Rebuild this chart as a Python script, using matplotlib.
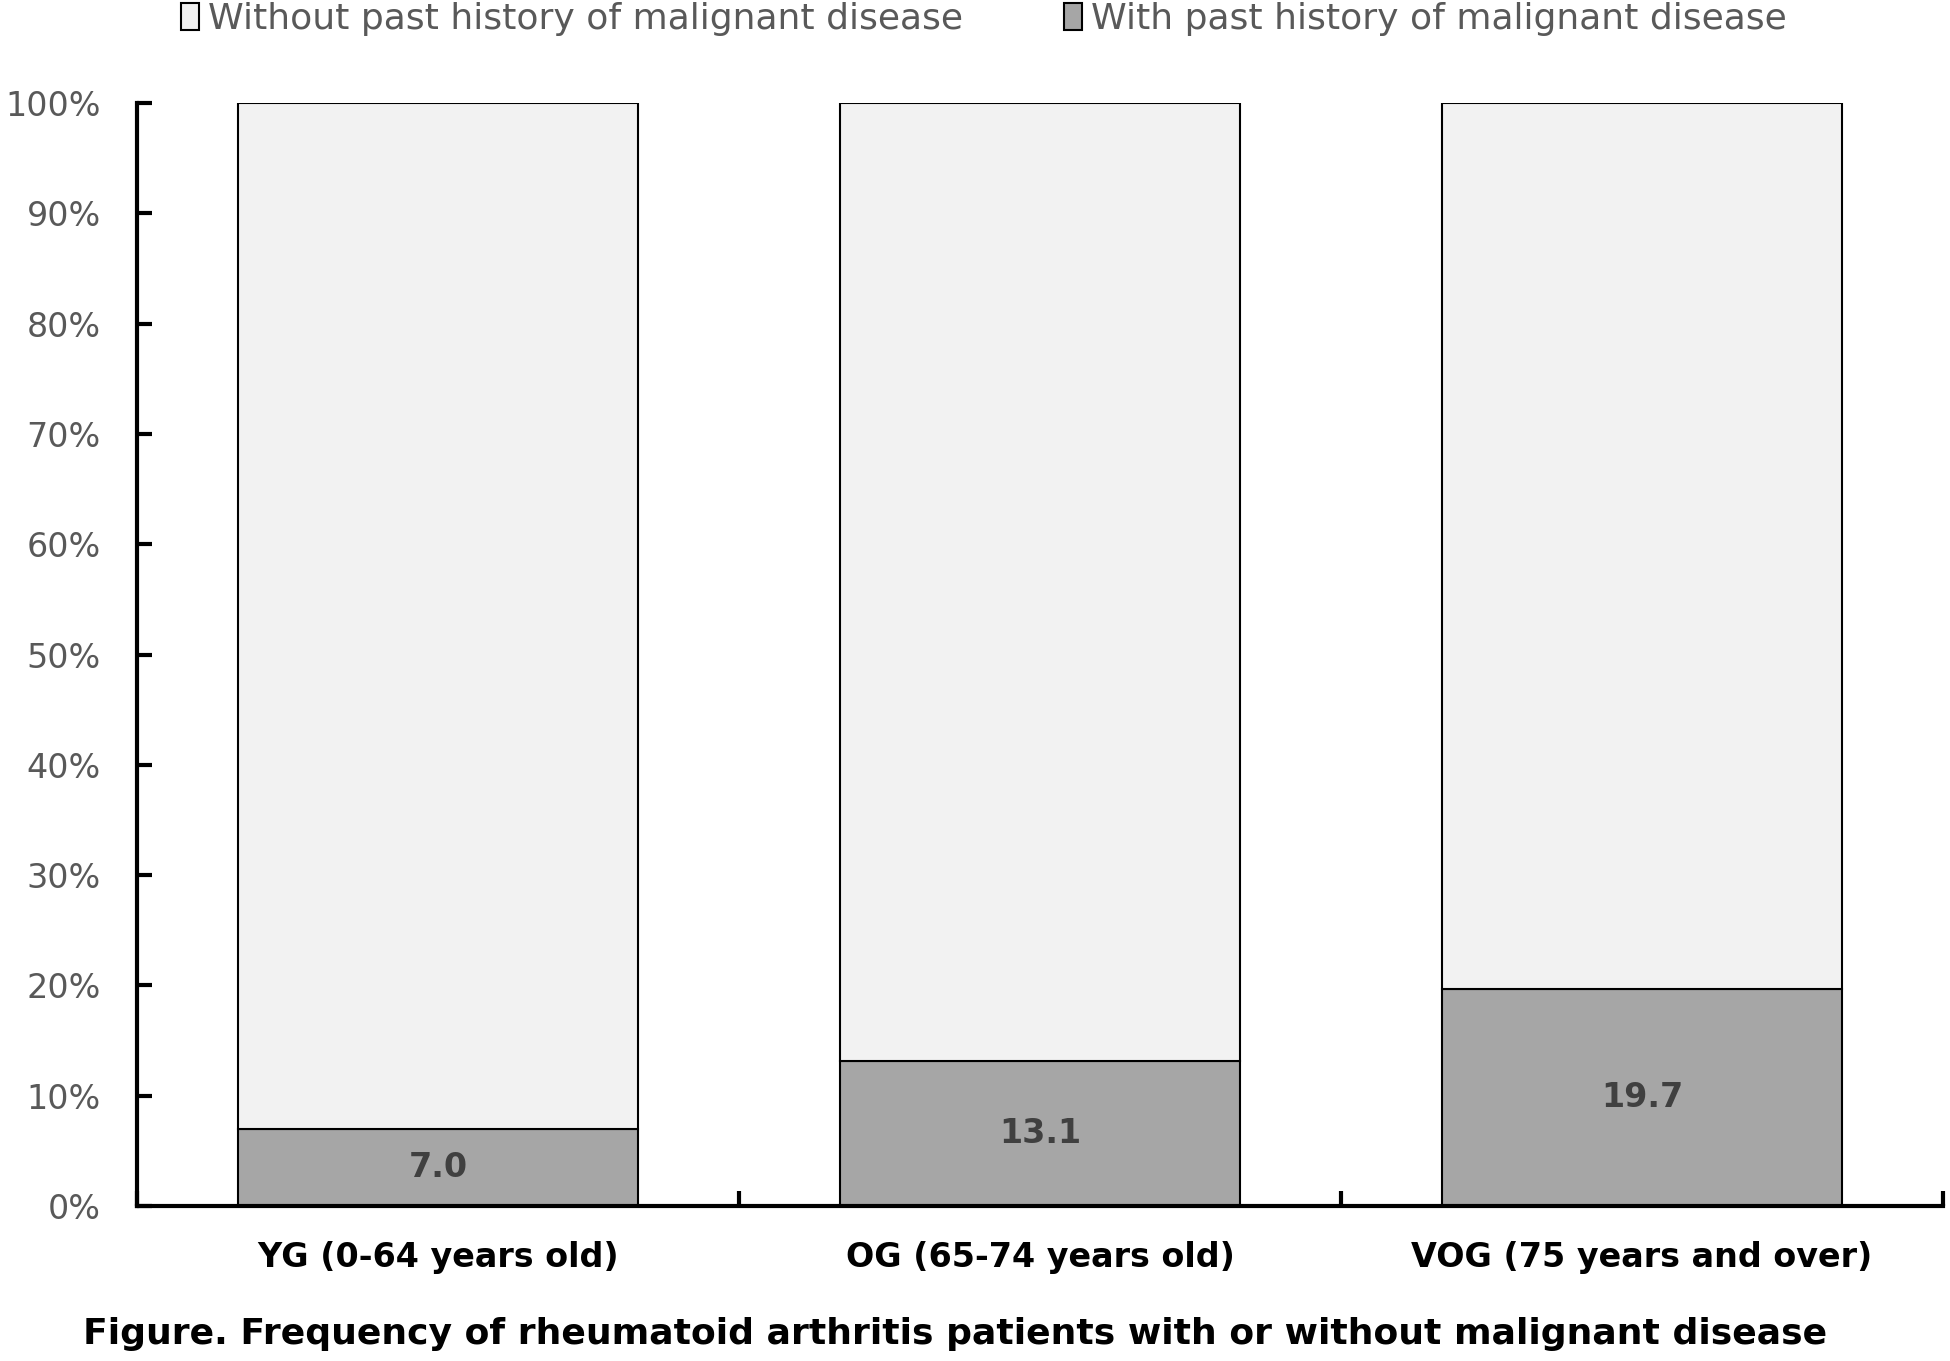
import matplotlib
matplotlib.use("Agg")
import matplotlib.pyplot as plt
import numpy as np

categories = ["YG (0-64 years old)", "OG (65-74 years old)", "VOG (75 years and over)"]
with_history = [7.0, 13.1, 19.7]
without_history = [93.0, 86.9, 80.3]
series_names = ["Without past history of malignant disease", "With past history of malignant disease"]
yticks = [0, 10, 20, 30, 40, 50, 60, 70, 80, 90, 100]
title = "Figure. Frequency of rheumatoid arthritis patients with or without malignant disease"

plt.rcParams['font.family'] = ['DejaVu Sans']

fig = plt.figure(figsize=(19.5, 13.61), dpi=100)
ax = fig.add_axes([0.0703, 0.1139, 0.9261, 0.8104])

x = np.arange(len(categories))
w = 0.665
b1 = ax.bar(x, with_history, width=w, color="#a6a6a6", edgecolor="black", linewidth=1.5,
            label=series_names[1], zorder=2)
b2 = ax.bar(x, without_history, width=w, bottom=with_history, color="#f2f2f2", edgecolor="black",
            linewidth=1.5, label=series_names[0], zorder=2)

for xi, v in zip(x, with_history):
    ax.text(xi, v / 2, f"{v:.1f}", ha="center", va="center", fontsize=24, fontweight="bold",
            color="#404040")

ax.set_xlim(-0.5, len(categories) - 0.5)
ax.set_ylim(0, 100)
ax.set_yticks(yticks)
ax.set_yticklabels([f"{t}%" for t in yticks], fontsize=24, color="#595959")
ax.tick_params(axis="y", direction="in", length=11, width=3, pad=26, colors="black", labelcolor="#595959")

ax.set_xticks(x)
ax.set_xticklabels(categories, fontsize=24, fontweight="bold", color="black")
ax.tick_params(axis="x", length=0, pad=25)
ax.set_xticks(np.arange(len(categories) + 1) - 0.5, minor=True)
ax.tick_params(axis="x", which="minor", direction="in", length=11, width=3, colors="black")

for s in ["top", "right"]:
    ax.spines[s].set_visible(False)
for s in ["left", "bottom"]:
    ax.spines[s].set_linewidth(3)

leg = fig.legend(handles=[b2, b1], labels=series_names, loc="center", ncol=2,
                 bbox_to_anchor=(0.5045, 0.986), frameon=False, fontsize=26,
                 handlelength=0.5, handleheight=0.8, handletextpad=0.25, columnspacing=2.8,
                 labelcolor="#595959")

fig.text(0.4897, 0.0199, title, ha="center", va="center", fontsize=26, fontweight="bold", color="black")

fig.savefig("out.png", dpi=100)
